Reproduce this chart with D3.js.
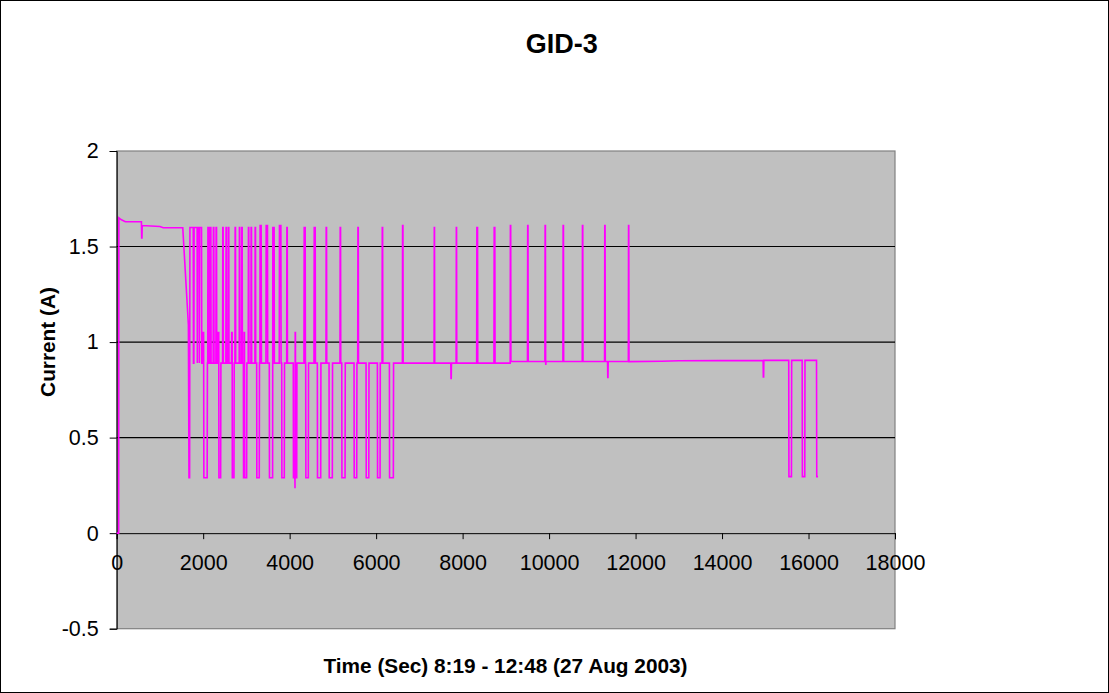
<!DOCTYPE html>
<html><head><meta charset="utf-8">
<script src="https://cdn.jsdelivr.net/npm/d3@7"></script>
<style>
html,body{margin:0;padding:0;background:#fff;}
svg{display:block;font-family:Arial,"Liberation Sans",sans-serif;}
</style></head>
<body>
<svg id="chart" width="1109" height="693"></svg>
<script>
const chartTitle = "GID-3";
const xTitle = "Time (Sec) 8:19 - 12:48 (27 Aug 2003)";
const yTitle = "Current (A)";
const xTicks = [0, 2000, 4000, 6000, 8000, 10000, 12000, 14000, 16000, 18000];
const yTicks = [-0.5, 0, 0.5, 1, 1.5, 2];
const gridValues = [0.5, 1, 1.5];

// [time (s), current (A)]
const trace = [
[0,0],[45,0],[50,1.65],[110,1.64],[200,1.63],[572,1.63],[578,1.545],[584,1.545],[590,1.61],[1000,1.605],[1075,1.598],[1528,1.598],[1658,1.09],[1672,0.29],[1686,0.29],[1694,1.6],
[1770,1.6],[1775,0.89],[1785,0.89],[1790,1.6],
[1860,1.6],[1865,0.89],[1871,1.6],
[1908,1.6],[1913,0.89],[1919,1.6],
[1962,1.6],[1968,0.89],[1988,0.89],[1992,1.05],[2010,1.05],[2016,0.29],[2092,0.29],[2098,0.89],
[2105,0.89],[2110,1.6],[2125,1.6],[2130,0.89],
[2155,0.89],[2160,1.6],[2178,1.6],[2183,0.89],
[2231,0.89],[2236,1.6],[2246,1.6],[2251,0.89],
[2294,0.89],[2299,1.6],[2309,1.6],[2314,0.89],
[2345,0.89],[2350,1.05],[2360,1.05],[2364,0.29],[2404,0.29],[2410,0.89],
[2449,0.89],[2454,1.6],[2462,1.6],[2467,0.89],
[2525,0.89],[2530,1.6],[2538,1.6],[2543,0.89],
[2579,0.89],[2584,1.6],[2592,1.6],[2597,0.89],
[2655,0.89],[2660,1.05],[2670,1.05],[2674,0.29],[2712,0.29],[2718,0.89],
[2734,0.89],[2739,1.6],[2747,1.6],[2752,0.89],
[2833,0.89],[2838,1.6],[2846,1.6],[2851,0.89],
[2889,0.89],[2894,1.6],[2902,1.6],[2907,0.89],
[2930,0.89],[2934,0.29],[2944,0.29],[2947,1.05],[2955,1.05],[2960,0.29],[3005,0.29],[3011,0.89],
[3042,0.89],[3047,1.6],[3055,1.6],[3060,0.89],
[3104,0.89],[3109,1.6],[3117,1.6],[3122,0.89],
[3197,0.89],[3202,1.6],[3210,1.6],[3215,0.89],
[3237,0.89],[3241,0.29],[3297,0.29],[3302,0.89],
[3312,0.89],[3317,1.61],[3341,1.61],[3346,0.89],
[3452,0.89],[3457,1.61],[3487,1.61],[3492,0.89],
[3529,0.89],[3533,0.29],[3606,0.29],[3611,1.6],[3641,1.6],[3646,0.89],
[3759,0.89],[3764,1.61],[3797,1.61],[3802,0.89],
[3816,0.89],[3820,0.29],[3876,0.29],[3881,0.89],
[3931,0.89],[3936,1.6],[3944,1.6],[3949,0.89],
[4084,0.89],[4088,0.29],[4120,0.29],[4124,0.235],[4128,1.05],[4134,1.05],[4138,0.29],[4163,0.29],[4168,0.89],
[4331,0.89],[4336,1.6],[4359,1.6],[4364,0.89],
[4371,0.89],[4375,0.29],[4432,0.29],[4437,0.89],
[4563,0.89],[4568,1.6],[4591,1.6],[4596,0.89],
[4640,0.89],[4644,0.29],[4718,0.29],[4723,0.89],
[4840,0.89],[4845,1.6],[4853,1.6],[4858,0.89],
[4911,0.89],[4915,0.29],[4987,0.29],[4992,0.89],
[5164,0.89],[5169,1.6],[5177,1.6],[5182,0.89],
[5205,0.89],[5209,0.29],[5281,0.29],[5286,0.89],
[5489,0.89],[5493,0.29],[5551,0.29],[5556,0.89],
[5574,0.89],[5579,1.6],[5587,1.6],[5592,0.89],
[5767,0.89],[5771,0.29],[5830,0.29],[5835,0.89],
[6029,0.89],[6033,0.29],[6091,0.29],[6096,0.89],
[6137,0.89],[6142,1.6],[6150,1.6],[6155,0.89],
[6307,0.89],[6311,0.29],[6398,0.29],[6403,0.89],
[6607,0.89],[6612,1.61],[6620,1.61],[6625,0.89],
[7340,0.89],[7345,1.6],[7350,1.6],[7355,0.89],
[7727,0.89],[7732,0.81],[7737,0.81],[7742,0.89],
[7850,0.89],[7855,1.6],[7860,1.6],[7865,0.89],
[8325,0.89],[8330,1.6],[8345,1.6],[8350,0.89],
[8725,0.89],[8730,1.6],[8745,1.6],[8750,0.89],
[9100,0.89],[9105,1.61],[9112,1.61],[9117,0.898],
[9500,0.898],[9505,1.61],[9512,1.61],[9517,0.898],
[9903,0.898],[9908,1.61],[9915,1.61],[9920,0.898],[9924,0.88],[9928,0.898],
[10320,0.898],[10325,1.61],[10332,1.61],[10337,0.898],
[10767,0.898],[10772,1.61],[10779,1.61],[10784,0.898],
[11283,0.898],[11288,1.61],[11295,1.61],[11300,0.898],
[11352,0.898],[11357,0.815],[11362,0.815],[11367,0.898],
[11833,0.898],[11838,1.61],[11843,1.61],[11848,0.898],
[12600,0.9],[13000,0.902],[14950,0.904],[14955,0.817],[14962,0.817],[14967,0.904],
[15542,0.904],[15547,0.296],[15605,0.296],[15610,0.904],
[15853,0.904],[15858,0.296],[15913,0.296],[15918,0.904],
[16185,0.904],[16190,0.296],[16220,0.296]
];

const svg = d3.select("#chart");
const W = 1109, H = 693;
const plotL = 116.7, plotR = 895, plotT = 151, plotB = 628.7;
const FONT = "Arial, 'Liberation Sans', sans-serif";

const x = d3.scaleLinear().domain([0, 18000]).range([plotL, plotR]);
const y = d3.scaleLinear().domain([-0.5, 2]).range([plotB, plotT]);

// outer frame
svg.append("rect").attr("x",0.5).attr("y",0.5).attr("width",W-1).attr("height",H-1)
  .attr("fill","#fff").attr("stroke","#000").attr("stroke-width",1);

// plot area
svg.append("rect").attr("x",plotL).attr("y",plotT).attr("width",plotR-plotL).attr("height",plotB-plotT)
  .attr("fill","#c0c0c0").attr("stroke","#808080").attr("stroke-width",1.2);

// gridlines
svg.append("g").selectAll("line").data(gridValues).join("line")
  .attr("x1",plotL).attr("x2",plotR).attr("y1",d=>y(d)).attr("y2",d=>y(d))
  .attr("stroke","#000").attr("stroke-width",1.1);

// y axis
const yAxis = d3.axisLeft(y).tickValues(yTicks).tickSize(7).tickPadding(11).tickFormat(d => String(d));
const gy = svg.append("g").attr("transform",`translate(${plotL},0)`).call(yAxis);
gy.select(".domain").attr("stroke","#000");
gy.selectAll(".tick line").attr("stroke","#000");
gy.selectAll("text").attr("font-size",21.5).attr("font-family",FONT).attr("fill","#000");

// x axis at y = 0
const xAxis = d3.axisBottom(x).tickValues(xTicks).tickSize(6).tickPadding(16).tickFormat(d => String(d));
const gx = svg.append("g").attr("transform",`translate(0,${y(0)})`).call(xAxis);
gx.select(".domain").attr("stroke","#000");
gx.selectAll(".tick line").attr("stroke","#000");
gx.selectAll("text").attr("font-size",21.5).attr("font-family",FONT).attr("fill","#000");

// trace
const line = d3.line().x(d=>x(d[0])).y(d=>y(d[1]));
svg.append("path").datum(trace).attr("d",line)
  .attr("fill","none").attr("stroke","#ff00ff").attr("stroke-width",1.6).attr("stroke-linejoin","miter");

// titles
svg.append("text").attr("x",561.7).attr("y",53).attr("text-anchor","middle")
  .attr("font-family",FONT).attr("font-size",27).attr("font-weight","bold").text(chartTitle);
svg.append("text").attr("x",505.5).attr("y",673).attr("text-anchor","middle")
  .attr("font-family",FONT).attr("font-size",20.8).attr("font-weight","bold").text(xTitle);
svg.append("text").attr("transform","translate(55,342) rotate(-90)").attr("text-anchor","middle")
  .attr("font-family",FONT).attr("font-size",20.8).attr("font-weight","bold").text(yTitle);
</script>
</body></html>
